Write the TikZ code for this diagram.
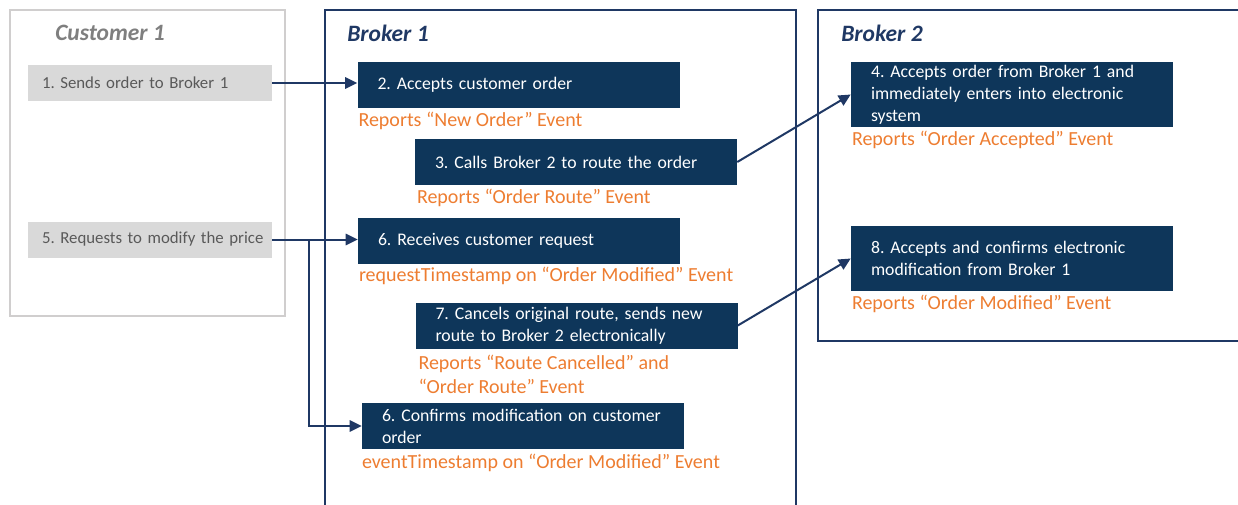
\documentclass[tikz,border=0pt]{standalone}
\usepackage{fontspec}
\setmainfont{Carlito}
\usetikzlibrary{positioning, arrows.meta, calc}

\definecolor{navyBox}{HTML}{0E365A}
\definecolor{navyLine}{HTML}{1F3864}
\definecolor{evtOrange}{HTML}{ED7D31}
\definecolor{custFill}{HTML}{D9D9D9}
\definecolor{custLine}{HTML}{D0CECE}
\definecolor{custText}{HTML}{595959}
\definecolor{custTitle}{HTML}{7F7F7F}

\begin{document}
\begin{tikzpicture}[
		x=0.75pt, y=-0.75pt,
		% Panel and title styles
		panel/.style={line width=1.5pt, draw=navyLine},
		custPanel/.style={panel, draw=custLine},
		title/.style={font=\fontsize{17.6}{20}\selectfont\bfseries\itshape, anchor=west, inner sep=0pt, text=navyLine},
		% Box styles for the steps
		stepBox/.style={rectangle, fill=navyBox, text=white, align=left, inner sep=0pt,
			text width=241.5pt, minimum width=241.5pt, minimum height=34.5pt,
			font=\fontsize{13.3}{16.5}\selectfont\frenchspacing,
			execute at begin node={\leftskip=15pt}},
		tallBox/.style={stepBox, minimum height=48.75pt},
		custBox/.style={rectangle, fill=custFill, text=custText, align=left, inner sep=0pt,
			text width=183pt, minimum width=183pt, minimum height=27pt,
			font=\fontsize{12.6}{16}\selectfont\frenchspacing,
			execute at begin node={\leftskip=10.5pt}},
		evtLabel/.style={anchor=west, inner sep=0pt, align=left, text=evtOrange,
			font=\fontsize{15}{18}\selectfont},
		% Arrow style
		flowArrow/.style={-{Triangle[length=9pt, width=8.5pt]}, line width=1.5pt, draw=navyLine}
		]
		\useasboundingbox (0,0) rectangle (1238,504);
		
		% =========================================================
		% PANELS
		% =========================================================
		\draw[custPanel] (10,10) rectangle (285,316);
		\draw[panel] (325,10) rectangle (796,520);
		\draw[panel] (818,10) rectangle (1260,341);
		
		\node[title, text=custTitle] (CustTitle) at (55,33) {Customer 1};
		\node[title] (Brk1Title) at (347,33) {Broker 1};
		\node[title] (Brk2Title) at (841,33) {Broker 2};
		
		% =========================================================
		% CUSTOMER 1
		% =========================================================
		\node[custBox] (CustSend) at (150,83) {1. Sends order to Broker 1};
		\node[custBox] (CustModify) at (150,239.5) {5. Requests to modify the price};
		
		% =========================================================
		% BROKER 1
		% =========================================================
		\node[stepBox] (B1Accept) at (518.5,85) {2. Accepts customer order};
		\node[evtLabel] (B1AcceptEvt) at ($(B1Accept.south west)+(1,13)$) {Reports “New Order” Event};
		
		\node[stepBox] (B1Route) at (576,162) {3. Calls Broker 2 to route the order};
		\node[evtLabel] (B1RouteEvt) at ($(B1Route.south west)+(2,13)$) {Reports “Order Route” Event};
		
		\node[stepBox] (B1Request) at (519,241) {6. Receives customer request};
		\node[evtLabel] (B1RequestEvt) at ($(B1Request.south west)+(1,12)$) {requestTimestamp on “Order Modified” Event};
		
		\node[stepBox] (B1Reroute) at (576.5,325.5) {7. Cancels original route, sends new\\route to Broker 2 electronically};
		\node[evtLabel] (B1RerouteEvt) at ($(B1Reroute.south west)+(3,26)$) {Reports “Route Cancelled” and\\“Order Route” Event};
		
		\node[stepBox] (B1Confirm) at (523,426) {6. Confirms modification on customer\\order};
		\node[evtLabel] (B1ConfirmEvt) at ($(B1Confirm.south west)+(0,14)$) {eventTimestamp on “Order Modified” Event};
		
		% =========================================================
		% BROKER 2
		% =========================================================
		\node[tallBox] (B2Accept) at (1012,94.5) {4. Accepts order from Broker 1 and\\immediately enters into electronic\\system};
		\node[evtLabel] (B2AcceptEvt) at ($(B2Accept.south west)+(1,13)$) {Reports “Order Accepted” Event};
		
		\node[tallBox] (B2Modify) at (1012,258.5) {8. Accepts and confirms electronic\\modification from Broker 1};
		\node[evtLabel] (B2ModifyEvt) at ($(B2Modify.south west)+(1,13)$) {Reports “Order Modified” Event};
		
		% =========================================================
		% FLOW ARROWS
		% =========================================================
		\draw[flowArrow] (CustSend.east) -- (CustSend.east -| B1Accept.west);
		\draw[flowArrow] (CustModify.east) -- (CustModify.east -| B1Request.west);
		\coordinate (ModFork) at ($(CustModify.east)+(37,0)$);
		\draw[flowArrow] (ModFork) |- (B1Confirm.west);
		\draw[flowArrow] (B1Route.east) -- (B2Accept.west);
		\draw[flowArrow] (B1Reroute.east) -- (B2Modify.west);
		
	\end{tikzpicture}
\end{document}
